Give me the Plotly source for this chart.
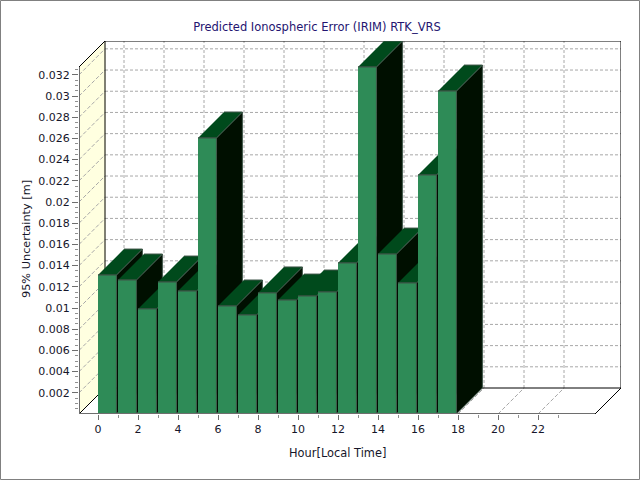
import plotly.graph_objects as go

hours = list(range(18))
uncertainty = [0.01311, 0.01264, 0.00991, 0.01245, 0.0116, 0.02604, 0.01019, 0.00934, 0.01142,
               0.01075, 0.01113, 0.01151, 0.01425, 0.03274, 0.01509, 0.01236, 0.02255, 0.03047]
x_ticks = list(range(0, 24, 2))
y_ticks = [round(0.002 * i, 3) for i in range(1, 17)]
y_labels = ["0.002", "0.004", "0.006", "0.008", "0.01", "0.012", "0.014", "0.016",
            "0.018", "0.02", "0.022", "0.024", "0.026", "0.028", "0.03", "0.032"]

W, H = 640, 480
DX, DY = 1.3, 0.002453     # oblique depth of the pseudo-3D box
XL, XR = -0.95, 24.85      # floor front edge
YT = 0.03274               # top of front y axis
BW = 0.92                  # bar width
FRONT, TOP, SIDE = "#2E8B57", "#004A1C", "#000F00"
EDGE = "#3E5548"
GRID = "#A8A8A8"
AXIS = "#6E6E6E"
FONT = "DejaVu Sans"
TXT = "#16162A"

fig = go.Figure()


def line(xs, ys, color, width=1, dash=None):
    fig.add_trace(go.Scatter(x=xs, y=ys, mode="lines", cliponaxis=False, hoverinfo="skip",
                             showlegend=False, line=dict(color=color, width=width, dash=dash)))


def poly(xs, ys, fill, edge=None):
    fig.add_trace(go.Scatter(x=xs, y=ys, mode="lines", fill="toself", fillcolor=fill,
                             cliponaxis=False, hoverinfo="skip", showlegend=False,
                             line=dict(color=edge or fill, width=1)))


# left wall
poly([XL, XL, XL + DX, XL + DX], [0, YT, YT + DY, DY], "#FFFFE0")

# grid: back wall, left wall, floor
for v in y_ticks:
    line([XL, XL + DX], [v, v + DY], GRID, 1, "4px,2px")
    line([XL + DX, XR + DX], [v + DY, v + DY], GRID, 1, "3px,2px")
for t in x_ticks:
    line([t, t + DX], [0, DY], GRID, 1, "4px,2px")
    line([t + DX, t + DX], [DY, YT + DY], GRID, 1, "3px,2px")

# box outline
line([XL + DX, XL + DX, XR + DX, XR + DX, XL + DX], [DY, YT + DY, YT + DY, DY, DY], "#000000", 1)
line([XL, XL + DX], [YT, YT + DY], "#000000", 1)
line([XL, XL + DX], [0, DY], "#000000", 1)
line([XR, XR + DX], [0, DY], "#000000", 1)

# bars
for h, v in zip(hours, uncertainty):
    x0, x1 = h, h + BW
    poly([x1, x1 + DX, x1 + DX, x1], [0, DY, v + DY, v], SIDE, EDGE)
    poly([x0, x1, x1 + DX, x0 + DX], [v, v, v + DY, v + DY], TOP, EDGE)
    poly([x0, x1, x1, x0], [0, 0, v, v], FRONT, EDGE)

# front axes
line([XL, XL], [0, YT], AXIS, 2)
line([XL, XR], [0, 0], AXIS, 2)

fig.update_layout(
    width=W, height=H, autosize=False,
    margin=dict(l=0, r=0, t=0, b=0, pad=0),
    paper_bgcolor="white", plot_bgcolor="white",
    font=dict(family=FONT, size=11, color=TXT),
    showlegend=False,
    title=dict(text="Predicted Ionospheric Error (IRIM) RTK_VRS",
               font=dict(family=FONT, size=11.5, color="#241470"),
               x=317 / W, xanchor="center", xref="paper",
               y=1 - 27 / H, yanchor="middle", yref="paper"),
    xaxis=dict(domain=[79 / W, 621 / W], range=[XL, XR + DX], showgrid=False, zeroline=False,
               showline=False, tickmode="array", tickvals=x_ticks,
               ticktext=[str(t) for t in x_ticks], ticks="outside", ticklen=5, tickwidth=1,
               tickcolor=AXIS, tickfont=dict(family=FONT, size=11, color=TXT),
               minor=dict(tickmode="array", tickvals=list(range(1, 25, 2)), ticks="outside",
                          ticklen=3, tickwidth=1, tickcolor="#909090", showgrid=False)),
    yaxis=dict(domain=[66 / H, 439 / H], range=[0, YT + DY], showgrid=False, zeroline=False,
               showline=False, anchor="x", position=0, tickmode="array", tickvals=y_ticks,
               ticktext=y_labels, ticks="outside", ticklen=6, tickwidth=1, tickcolor=AXIS,
               tickfont=dict(family=FONT, size=11, color=TXT),
               minor=dict(tickmode="array",
                          tickvals=[round(0.0005 * i, 4) for i in range(1, 66) if i % 4],
                          ticks="outside", ticklen=3, tickwidth=1, tickcolor="#909090",
                          showgrid=False)),
    annotations=[
        dict(text="Hour[Local Time]", xref="paper", yref="paper", x=337 / W, y=1 - 453 / H,
             showarrow=False, xanchor="center", yanchor="middle", font=dict(family=FONT, size=11.4, color=TXT)),
        dict(text="95% Uncertainty [m]", xref="paper", yref="paper", x=26 / W, y=1 - 239 / H,
             showarrow=False, textangle=-90, xanchor="center", yanchor="middle",
             font=dict(family=FONT, size=11.3, color=TXT)),
    ],
    shapes=[dict(type="rect", xref="paper", yref="paper", x0=0.5 / W, x1=1 - 0.5 / W,
                 y0=0.5 / H, y1=1 - 0.5 / H, line=dict(color="#808080", width=1))],
)

fig.write_html("out.html", config={"displayModeBar": False},
               post_script="document.body.style.margin='0';document.body.style.overflow='hidden';")
